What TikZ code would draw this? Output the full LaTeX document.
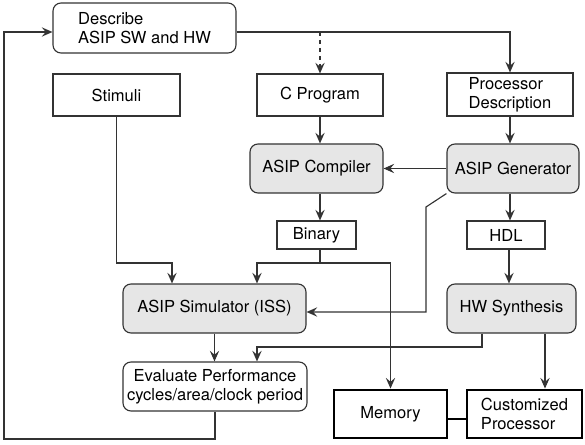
\documentclass[tikz,border=0pt]{standalone}
\usepackage{fontspec}
\setmainfont{TeX Gyre Heros}
\usetikzlibrary{arrows.meta}
\definecolor{linegray}{HTML}{333333}
\definecolor{boxgray}{HTML}{E6E6E6}

\begin{document}
\begin{tikzpicture}[x=0.75pt,y=-0.75pt]
  \tikzstyle{every node}=[font=\fontsize{12.4}{14}\selectfont]
  \tikzstyle{plain}=[draw=linegray,line width=0.85pt,inner sep=2pt]
  \tikzstyle{rplain}=[plain,rounded corners=6pt]
  \tikzstyle{tool}=[rplain,fill=boxgray]
  \tikzstyle{target}=[plain,draw=black,line width=2.2pt]
  \tikzstyle{flow}=[draw=linegray,line width=0.85pt,
    -{Stealth[length=8pt,width=7pt,inset=3pt]}]
  \useasboundingbox (0,0) rectangle (585,445);
  % boxes
  \node[rplain,minimum width=137.25pt,minimum height=37.5pt,align=left]
    (describe) at (144.5,28) {Describe\\ASIP SW and HW};
  \node[plain,minimum width=95.25pt,minimum height=31.5pt]
    (stimuli) at (116.5,95) {Stimuli};
  \node[plain,minimum width=94.5pt,minimum height=31.5pt]
    (cprog) at (320,95) {C Program};
  \node[plain,minimum width=94.5pt,minimum height=32.25pt,align=left]
    (procdesc) at (510,94.5) {Processor\\Description};
  \node[tool,minimum width=99.75pt,minimum height=36.75pt]
    (compiler) at (316.5,168.5) {ASIP Compiler};
  \node[tool,minimum width=99pt,minimum height=36.75pt]
    (generator) at (513,168.5) {ASIP Generator};
  \node[plain,minimum width=59.25pt,minimum height=21pt]
    (binary) at (316.5,235) {Binary};
  \node[plain,minimum width=58.5pt,minimum height=21pt]
    (hdl) at (506,235) {HDL};
  \node[tool,minimum width=137.25pt,minimum height=36.75pt]
    (simulator) at (214.5,308.5) {ASIP Simulator (ISS)};
  \node[tool,minimum width=96.75pt,minimum height=36.75pt]
    (synthesis) at (511.5,308.5) {HW Synthesis};
  \node[rplain,minimum width=138pt,minimum height=36.75pt,align=center]
    (evaluate) at (215,386.5) {Evaluate Performance\\cycles/area/clock period};
  \node[target,minimum width=84.75pt,minimum height=36pt]
    (memory) at (390.5,414) {Memory};
  \node[target,minimum width=86.25pt,minimum height=36pt,align=left]
    (custproc) at (524.5,414) {Customized\\Processor};
  % route points
  \coordinate (split) at (cprog.north |- 0,32);
  \coordinate (bsplit) at (320,263);
  \coordinate (loop) at (4,439);
  % connectors
  \path[flow] (describe.east |- 0,32) -| (procdesc.north);
  \path[flow,dashed] (split) -- (cprog.north);
  \path[flow] (cprog.south) -- (cprog.south |- compiler.north);
  \path[flow] (procdesc.south) -- (procdesc.south |- generator.north);
  \path[flow] (generator.west) -- (compiler.east);
  \path[flow] (cprog.south |- compiler.south) -- (cprog.south |- binary.north);
  \path[flow] (procdesc.south |- generator.south) -- (procdesc.south |- hdl.north);
  \path[flow] (stimuli.south) |- (172,263) -- (simulator.north -| 172,0);
  \path[flow] (cprog.south |- binary.south) -- (bsplit) -| (memory.north);
  \path[flow] (bsplit) -| (simulator.north -| 257,0);
  \path[flow] (generator.south west) -- (426,207) |- (simulator.east |- 0,312);
  \path[flow] (509,249) -- (synthesis.north -| 509,0);
  \path[flow] (simulator.south) -- (evaluate.north -| simulator.south);
  \path[flow] (synthesis.south -| 482,0) |- (257,347) -- (evaluate.north -| 257,0);
  \path[flow] (synthesis.south -| 545,0) -- (custproc.north -| 545,0);
  \path[flow] (evaluate.south) |- (loop) |- (describe.west |- 0,32);
  \draw[black,line width=2.2pt] (memory.east |- 0,419) -- (custproc.west |- 0,419);
\end{tikzpicture}
\end{document}
